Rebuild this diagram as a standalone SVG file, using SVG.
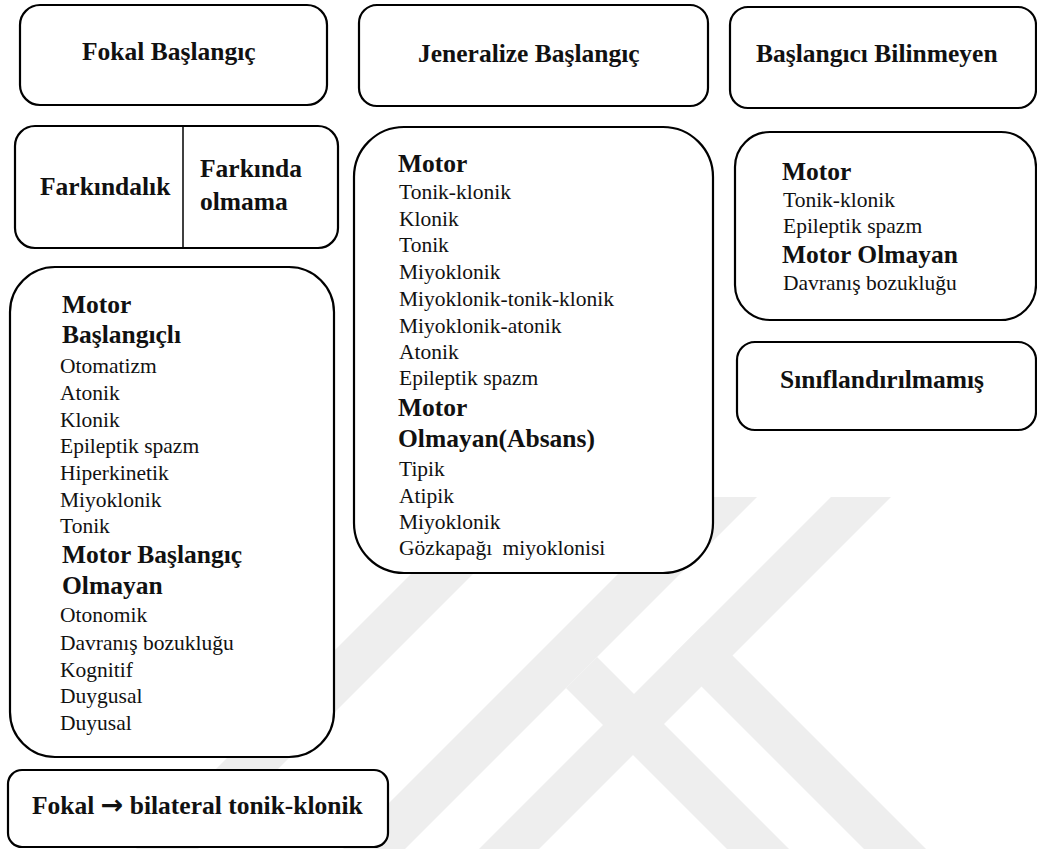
<svg xmlns="http://www.w3.org/2000/svg" width="1037" height="849" viewBox="0 0 1037 849">
<style>
.box{fill:#fff;stroke:#000;stroke-width:2.2}
.wm{fill:#eeeeee}
text{font-family:'Liberation Serif','DejaVu Serif','Noto Serif','Times New Roman',serif;fill:#111}
.b{font-weight:bold;font-size:25.5px}
.n{font-size:21.5px}
.arr{font-family:'DejaVu Sans','Liberation Sans',sans-serif;font-size:27px;font-weight:bold}
</style>
<rect width="1037" height="849" fill="#fff"/>
<g id="watermark">
<polygon class="wm" points="488,497 550,497 198,849 136,849"/>
<polygon class="wm" points="695,497 757,497 405,849 343,849"/>
<polygon class="wm" points="831,497 891,497 539,849 479,849"/>
<polygon class="wm" points="702.5,625.5 926,849 864,849 671.5,656.5"/>
<polygon class="wm" points="597,657 789,849 727,849 566,688"/>
</g>
<g id="connectors"></g>
<g id="fokal-baslangic">
<rect class="box" x="20" y="5" width="307" height="100" rx="20"/>
<text class="b" x="82" y="60">Fokal Başlangıç</text>
</g>
<g id="jeneralize-baslangic">
<rect class="box" x="359" y="5" width="349" height="101" rx="18"/>
<text class="b" x="418" y="62">Jeneralize Başlangıç</text>
</g>
<g id="baslangici-bilinmeyen">
<rect class="box" x="730" y="7" width="306" height="101" rx="18"/>
<text class="b" x="756" y="62">Başlangıcı Bilinmeyen</text>
</g>
<g id="farkindalik">
<rect class="box" x="15" y="126" width="323" height="122" rx="20"/>
<line x1="183" y1="126" x2="183" y2="248" stroke="#000" stroke-width="1.5"/>
<text class="b" x="40" y="195">Farkındalık</text>
<text class="b" x="200" y="177">Farkında</text>
<text class="b" x="200" y="210">olmama</text>
</g>
<g id="fokal-liste">
<rect class="box" x="10" y="267" width="324" height="490" rx="45"/>
<text class="b" x="62" y="313">Motor</text>
<text class="b" x="62" y="343">Başlangıçlı</text>
<text class="n" x="60" y="373">Otomatizm</text>
<text class="n" x="60" y="400">Atonik</text>
<text class="n" x="60" y="427">Klonik</text>
<text class="n" x="60" y="453">Epileptik spazm</text>
<text class="n" x="60" y="480">Hiperkinetik</text>
<text class="n" x="60" y="507">Miyoklonik</text>
<text class="n" x="60" y="533">Tonik</text>
<text class="b" x="62" y="563">Motor Başlangıç</text>
<text class="b" x="62" y="594">Olmayan</text>
<text class="n" x="60" y="622">Otonomik</text>
<text class="n" x="60" y="650">Davranış bozukluğu</text>
<text class="n" x="60" y="677">Kognitif</text>
<text class="n" x="60" y="703">Duygusal</text>
<text class="n" x="60" y="730">Duyusal</text>
</g>
<g id="jeneralize-liste">
<rect class="box" x="354" y="127" width="359" height="446" rx="50"/>
<text class="b" x="398" y="172">Motor</text>
<text class="n" x="399" y="199">Tonik-klonik</text>
<text class="n" x="399" y="226">Klonik</text>
<text class="n" x="399" y="252">Tonik</text>
<text class="n" x="399" y="279">Miyoklonik</text>
<text class="n" x="399" y="306">Miyoklonik-tonik-klonik</text>
<text class="n" x="399" y="333">Miyoklonik-atonik</text>
<text class="n" x="399" y="359">Atonik</text>
<text class="n" x="399" y="385">Epileptik spazm</text>
<text class="b" x="398" y="416">Motor</text>
<text class="b" x="398" y="447">Olmayan(Absans)</text>
<text class="n" x="399" y="476">Tipik</text>
<text class="n" x="399" y="503">Atipik</text>
<text class="n" x="399" y="529">Miyoklonik</text>
<text class="n" x="399" y="555">Gözkapağı <tspan dx="5">miyoklonisi</tspan></text>
</g>
<g id="bilinmeyen-liste">
<rect class="box" x="735" y="132" width="301" height="188" rx="35"/>
<text class="b" x="782" y="180">Motor</text>
<text class="n" x="783" y="207">Tonik-klonik</text>
<text class="n" x="783" y="233">Epileptik spazm</text>
<text class="b" x="782" y="263">Motor Olmayan</text>
<text class="n" x="783" y="290">Davranış bozukluğu</text>
</g>
<g id="siniflandirilmamis">
<rect class="box" x="737" y="342" width="299" height="88" rx="18"/>
<text class="b" x="780" y="388">Sınıflandırılmamış</text>
</g>
<g id="fokal-bilateral">
<rect class="box" x="8" y="770" width="380" height="77" rx="14"/>
<text class="b" x="32" y="814">Fokal <tspan class="arr">→</tspan> bilateral tonik-klonik</text>
</g>
</svg>
